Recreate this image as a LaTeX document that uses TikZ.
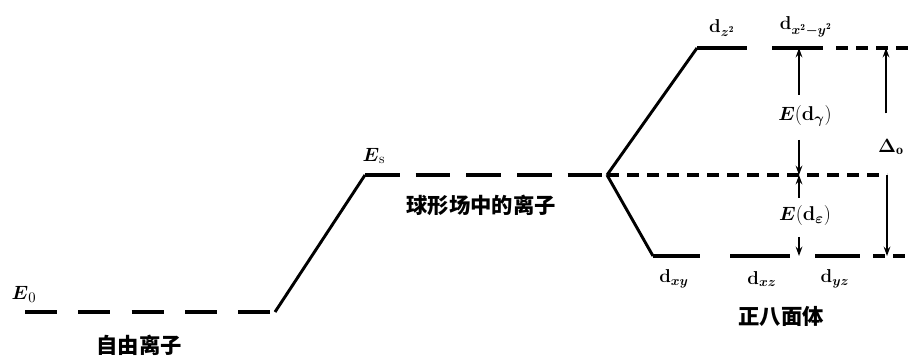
\documentclass[tikz,border=0pt]{standalone}
\usepackage{fontspec}
\usepackage{amsmath}
\newfontfamily\cjk{Noto Sans CJK SC}
\usetikzlibrary{arrows.meta}

\begin{document}
\begin{tikzpicture}[
    x=0.75pt, y=-0.75pt,
    level/.style   = {line width=3pt},
    slant/.style   = {line width=2.2pt},
    longdash/.style = {line width=2.8pt, dash pattern=on 24pt off 16pt},
    middash/.style  = {line width=2.8pt, dash pattern=on 26pt off 12pt},
    shortdash/.style = {line width=2.6pt, dash pattern=on 9pt off 6pt},
    arrow/.style   = {-{Stealth[length=7pt, width=5pt]}, line width=1.7pt},
    orb/.style     = {font=\fontsize{14}{16}\selectfont\bfseries, inner sep=1pt},
    elabel/.style  = {font=\fontsize{15}{17}\selectfont, inner sep=1pt},
    cjklabel/.style = {font=\cjk\bfseries\fontsize{16}{18}\selectfont, inner sep=1pt},
]
\useasboundingbox (0,0) rectangle (909,361);

%% Free ion
\coordinate (free_l) at (25,312);
\coordinate (free_r) at (275,312);
\node[elabel] (E0) at (24,294) {$\boldsymbol{E}_0$};
\node[cjklabel] (free_txt) at (139,345) {自由离子};

%% Ion in spherical field
\coordinate (sph_l) at (365,175);
\coordinate (sph_r) at (607,175);
\node[elabel] (Es) at (374,156) {$\boldsymbol{E}_{\mathrm{s}}$};
\node[cjklabel] (sph_txt) at (481,205) {球形场中的离子};

%% Octahedral field: e_g levels
\coordinate (eg_a) at (697,48);
\coordinate (eg_b) at (747,48);
\coordinate (eg_c) at (772,48);
\coordinate (eg_d) at (823,48);
\coordinate (eg_e) at (836,48);
\coordinate (eg_f) at (909,48);

%% Octahedral field: t_2g levels
\coordinate (tg_a) at (653,256);
\coordinate (tg_b) at (700,256);
\coordinate (tg_c) at (730,256);
\coordinate (tg_d) at (790,256);
\coordinate (tg_e) at (815,256);
\coordinate (tg_f) at (860,256);
\coordinate (tg_g) at (873,256);
\coordinate (tg_h) at (909,256);

%% Barycentre and arrow ends
\coordinate (bary_r) at (887,175);
\coordinate (gam_top) at (799,48);
\coordinate (gam_bot) at (799,175);
\coordinate (eps_bot) at (799,256);
\coordinate (del_top) at (886,48);
\coordinate (del_bot) at (887,256);

%% Lines
\draw[longdash] (free_l) -- (free_r);
\draw[slant] (free_r) -- (sph_l);
\draw[middash] (sph_l) -- (sph_r);
\draw[slant] (sph_r) -- (eg_a);
\draw[slant] (sph_r) -- (tg_a);
\draw[level] (eg_a) -- (eg_b);
\draw[level] (eg_c) -- (eg_d);
\draw[shortdash] (eg_e) -- (eg_f);
\draw[level] (tg_a) -- (tg_b);
\draw[level] (tg_c) -- (tg_d);
\draw[level] (tg_e) -- (tg_f);
\draw[shortdash] (tg_g) -- (tg_h);
\draw[shortdash] (sph_r) -- (bary_r);

%% Orbital labels
\node[orb] (dz2)   at (722,28)  {d$_{\boldsymbol{z}^{\mathbf{2}}}$};
\node[orb] (dx2y2) at (806,27)  {d$_{\boldsymbol{x}^{\mathbf{2}}\boldsymbol{-y}^{\mathbf{2}}}$};
\node[orb] (dxy)   at (674,279) {d$_{\boldsymbol{xy}}$};
\node[orb] (dxz)   at (762,279) {d$_{\boldsymbol{xz}}$};
\node[orb] (dyz)   at (835,279) {d$_{\boldsymbol{yz}}$};
\node[cjklabel] (oct_txt) at (781,316) {正八面体};

%% Splitting energies
\node[elabel] (Egam)  at (805,116) {$\boldsymbol{E}$(\textbf{d}$_{\boldsymbol{\gamma}}$)};
\node[elabel] (Eeps)  at (805,216) {$\boldsymbol{E}$(\textbf{d}$_{\boldsymbol{\varepsilon}}$)};
\node[elabel] (Delta) at (891,147) {$\boldsymbol{\Delta}_{\mathbf{o}}$};

\draw[arrow] ([yshift=7pt]Egam.north -| gam_top) -- (gam_top);
\draw[arrow] ([yshift=-9pt]Egam.south -| gam_top) -- (gam_bot);
\draw[arrow] ([yshift=5pt]Eeps.north -| gam_bot) -- (gam_bot);
\draw[arrow] ([yshift=-7pt]Eeps.south -| eps_bot) -- (eps_bot);
\draw[arrow] ([yshift=18pt]Delta.north -| del_top) -- (del_top);
\draw[arrow] (bary_r) -- (del_bot);

\end{tikzpicture}
\end{document}
